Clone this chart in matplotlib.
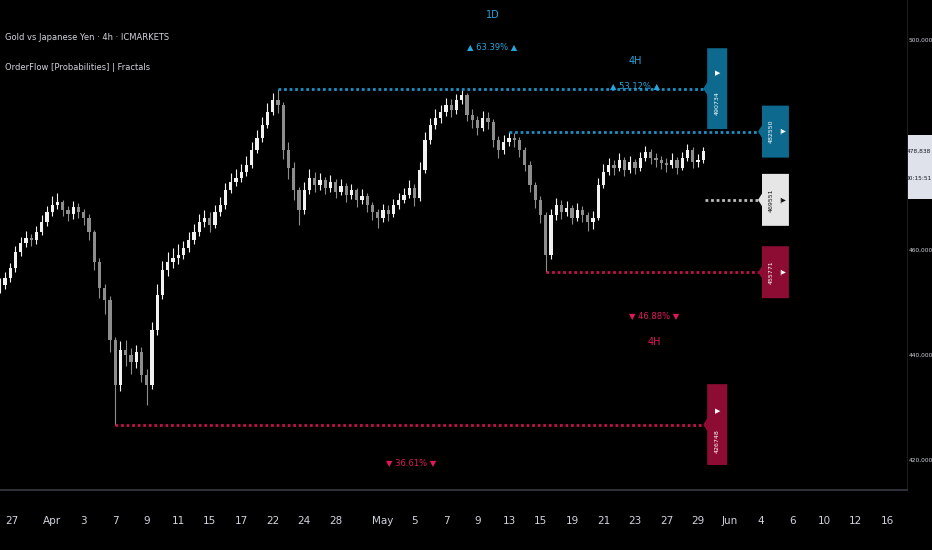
import numpy as np
import matplotlib
matplotlib.use("Agg")
import matplotlib.pyplot as plt
from matplotlib.patches import Polygon, Rectangle
import matplotlib.transforms as mtransforms
from matplotlib.ticker import FixedLocator, FuncFormatter

# ---- data (XAUJPY, 3 bars per trading day, prices in thousands of JPY) ----
first_open = 452.5
closes = [
    453.3, 454.7, 456.6, 459.6, 461.3, 462.3, 461.9, 463.4, 465.3, 467.2,
    468.6, 469.1, 467.6, 466.9, 468.2, 467.2, 466.1, 463.4, 457.7, 452.8,
    450.5, 442.9, 434.3, 440.9, 440.0, 438.7, 440.6, 436.2, 434.3, 444.8,
    451.4, 456.2, 457.7, 458.5, 459.0, 460.4, 461.9, 463.4, 465.3, 466.1,
    464.8, 467.2, 468.6, 471.4, 473.0, 473.7, 474.9, 476.2, 479.0, 481.3,
    483.8, 486.3, 488.6, 487.6, 479.0, 475.6, 471.4, 467.6, 471.4, 473.7,
    472.4, 473.3, 471.8, 473.0, 471.0, 472.2, 470.5, 471.4, 469.5, 470.3,
    468.6, 467.2, 466.1, 467.6, 466.9, 468.6, 469.5, 470.5, 471.8, 469.9,
    475.2, 480.9, 483.8, 485.1, 486.3, 487.6, 486.7, 488.6, 489.5, 485.7,
    484.8, 483.2, 485.1, 484.4, 480.9, 479.0, 480.6, 481.3, 480.9, 479.0,
    476.2, 472.4, 469.5, 466.7, 459.0, 466.7, 468.6, 467.2, 468.0, 466.1,
    467.6, 466.7, 465.3, 466.1, 472.4, 474.9, 476.2, 475.6, 477.1, 475.2,
    476.8, 475.6, 477.5, 478.7, 477.5, 477.1, 476.6, 476.2, 477.1, 475.6,
    477.5, 479.0, 476.8, 477.1, 478.838,
]
highs = [
    454.6, 455.9, 457.5, 460.8, 462.5, 463.6, 463.1, 464.5, 466.6, 468.4,
    470.3, 470.8, 469.5, 468.3, 469.4, 469.0, 467.9, 466.8, 463.9, 458.4,
    453.6, 451.2, 443.5, 442.6, 442.8, 441.3, 442.0, 441.5, 437.4, 446.2,
    453.5, 458.0, 459.6, 460.4, 461.2, 461.8, 463.5, 464.9, 466.8, 467.7,
    467.3, 468.6, 470.1, 472.7, 474.6, 475.5, 476.4, 477.9, 480.6, 482.9,
    485.3, 488.0, 489.9, 490.734, 488.2, 480.5, 476.8, 472.0, 472.9, 475.4,
    474.9, 474.6, 474.0, 474.3, 473.6, 473.5, 472.8, 472.6, 471.9, 471.6,
    470.9, 469.1, 467.9, 468.8, 468.5, 469.8, 470.9, 471.8, 473.3, 472.6,
    476.7, 482.4, 485.2, 486.8, 487.6, 489.0, 488.7, 489.8, 490.5, 490.0,
    486.9, 485.6, 486.4, 486.2, 485.0, 481.8, 481.9, 482.55, 482.2, 481.5,
    479.6, 476.9, 473.0, 470.2, 467.3, 467.9, 469.9, 469.6, 469.3, 468.6,
    468.9, 468.4, 467.2, 467.5, 473.8, 476.3, 477.6, 477.2, 478.4, 477.8,
    478.0, 477.4, 478.7, 479.9, 479.3, 478.5, 478.0, 477.6, 478.4, 477.7,
    478.7, 480.1, 479.6, 478.3, 479.7,
]
lows = [
    451.8, 452.6, 454.0, 455.9, 458.8, 460.5, 460.7, 461.2, 462.8, 464.6,
    466.5, 467.9, 466.4, 465.5, 466.0, 466.1, 464.7, 462.0, 456.1, 450.9,
    447.8, 440.6, 426.748, 433.2, 437.9, 436.4, 437.6, 434.8, 430.5, 433.6,
    443.9, 450.6, 455.1, 456.6, 457.3, 458.2, 459.6, 461.1, 462.7, 464.4,
    463.5, 464.1, 466.5, 467.9, 470.8, 472.1, 473.0, 474.1, 475.7, 478.4,
    480.6, 483.2, 485.7, 486.1, 477.4, 473.6, 469.5, 464.8, 466.8, 470.6,
    471.1, 471.5, 470.6, 471.0, 469.9, 470.4, 469.2, 469.7, 468.1, 468.7,
    467.3, 465.8, 464.2, 465.3, 465.6, 466.2, 467.8, 468.9, 469.9, 468.4,
    469.3, 474.6, 480.1, 483.0, 484.2, 485.5, 485.4, 486.0, 487.9, 484.6,
    483.3, 481.9, 482.7, 483.0, 479.7, 477.6, 478.3, 479.8, 479.6, 477.8,
    475.0, 471.1, 468.0, 465.1, 455.771, 458.2, 465.8, 466.0, 466.4, 464.9,
    465.5, 465.4, 463.6, 464.0, 465.7, 471.8, 474.2, 474.3, 475.0, 474.1,
    474.6, 474.5, 475.1, 476.9, 476.4, 475.9, 475.4, 474.9, 475.7, 474.5,
    475.2, 476.9, 475.7, 475.9, 476.6,
]

# fractal levels (price, bar index where the swing was made)
d1_high, d1_high_bar = 490734, 53
d1_low, d1_low_bar = 426748, 22
h4_high, h4_high_bar = 482550, 97
h4_low, h4_low_bar = 455771, 104
h4_mid = 469551
d1_up_pct, d1_dn_pct = "63.39%", "36.61%"
h4_up_pct, h4_dn_pct = "53.12%", "46.88%"
countdown = "00:15:51"

# x axis: trading day index -> label
tick_days = [0, 3, 5, 7, 9, 11, 13, 15, 17, 19, 21, 24, 26, 28, 30, 32,
             34, 36, 38, 40, 42, 44, 46, 48, 50, 52, 54, 56]
tick_labels = ["27", "Apr", "3", "7", "9", "11", "15", "17", "22", "24", "28",
               "May", "5", "7", "9", "13", "15", "19", "21", "23", "27", "29",
               "Jun", "4", "6", "10", "12", "16"]
price_ticks = [420000, 440000, 460000, 480000, 500000]

title_line1 = "Gold vs Japanese Yen · 4h · ICMARKETS"
title_line2 = "OrderFlow [Probabilities] | Fractals"

# ---- styling ----
plt.rcParams["font.family"] = ["DejaVu Sans"]
BG = "#000000"
TXT = "#d1d4dc"
BLUE_TXT = "#27a6dd"
BLUE_LINE = "#1f8fc4"
BLUE_BOX = "#0d6a8e"
RED_TXT = "#e3185a"
RED_LINE = "#c0134a"
RED_BOX = "#8c0c33"
WHITE_BOX = "#e6e6e6"
UP = "#f2f2f2"
DOWN = "#8d8d8d"

closes = np.asarray(closes) * 1000
highs = np.asarray(highs) * 1000
lows = np.asarray(lows) * 1000
opens = np.concatenate([[first_open * 1000], closes[:-1]])
n = len(closes)
xs = -1 / 3 + np.arange(n) / 3  # 3 bars per trading day

fig = plt.figure(figsize=(9.32, 5.5), dpi=100)
fig.patch.set_facecolor(BG)
ax = fig.add_axes([0, 60 / 550, 907 / 932, 490 / 550])
ax.set_facecolor(BG)

# ---- candles ----
up = closes >= opens
colors = np.where(up, UP, DOWN)
ax.vlines(xs, lows, highs, colors=colors, linewidth=0.8, zorder=2)
body_lo = np.minimum(opens, closes)
body_h = np.maximum(np.abs(closes - opens), 250)
ax.bar(xs, body_h, bottom=body_lo, width=0.2, color=colors, linewidth=0, zorder=3)

# ---- fractal lines + boxes ----
x_last = xs[-1]
box1_l, box1_w = x_last + 0.25, 1.27
box2_l, box2_w = x_last + 3.73, 1.71
dotted = (0, (1, 1))


def level_box(left, width, level, half_h, face):
    nw, nh = 0.25, 1200
    pts = [(left, level + half_h), (left + width, level + half_h),
           (left + width, level - half_h), (left, level - half_h),
           (left, level - nh), (left - nw, level), (left, level + nh)]
    ax.add_patch(Polygon(pts, closed=True, facecolor=face, edgecolor="none", zorder=5))


def off_text(x, y, s, dx=0, dy=0, color=TXT, size=6, rot=0, **kw):
    ax.annotate(s, xy=(x, y), xytext=(dx, dy), textcoords="offset pixels",
                ha="center", va="center", color=color, fontsize=size,
                rotation=rot, annotation_clip=False, zorder=7, **kw)


# 1D high
ax.plot([xs[d1_high_bar], box1_l], [d1_high, d1_high], color=BLUE_LINE,
        linestyle=dotted, linewidth=2, zorder=4)
level_box(box1_l, box1_w, d1_high, 7700, BLUE_BOX)
c1 = box1_l + box1_w / 2
off_text(c1, d1_high, "▶", dy=16, color="white", size=5)
off_text(c1, d1_high, f"{d1_high}", dy=-14, color="white", size=4.5, rot=90)
mid_top = (xs[d1_high_bar] + box1_l) / 2
off_text(mid_top, d1_high, "1D", dy=74, color=BLUE_TXT, size=7)
off_text(mid_top, d1_high, f"▲ {d1_up_pct} ▲", dy=42, color=BLUE_TXT, size=6)

# 1D low
ax.plot([xs[d1_low_bar], box1_l], [d1_low, d1_low], color=RED_LINE,
        linestyle=dotted, linewidth=2, zorder=4)
level_box(box1_l, box1_w, d1_low, 7700, RED_BOX)
off_text(c1, d1_low, "▶", dy=13, color="white", size=5)
off_text(c1, d1_low, f"{d1_low}", dy=-17, color="white", size=4.5, rot=90)
mid_bot = (xs[d1_low_bar] + box1_l) / 2
off_text(mid_bot, d1_low, f"▼ {d1_dn_pct} ▼", dy=-38, color=RED_TXT, size=6)

# 4H high / mid / low
c2n = box2_l + 0.6
c2a = box2_l + 1.3
for lvl, bar, face, line_c, txt_c in [
    (h4_high, h4_high_bar, BLUE_BOX, BLUE_LINE, "white"),
    (h4_mid, n - 1, WHITE_BOX, "#bdbdbd", "#111111"),
    (h4_low, h4_low_bar, RED_BOX, RED_LINE, "white"),
]:
    x0 = xs[bar] + (0.1 if bar == n - 1 else 0)
    ax.plot([x0, box2_l], [lvl, lvl], color=line_c, linestyle=dotted,
            linewidth=2, zorder=4)
    level_box(box2_l, box2_w, lvl, 4950, face)
    off_text(c2n, lvl, f"{lvl}", color=txt_c, size=4.5, rot=90)
    off_text(c2a, lvl, "|▶", color=txt_c, size=4.5)

mid_h4h = (xs[h4_high_bar] + box2_l) / 2
off_text(mid_h4h, h4_high, "4H", dy=71, color=BLUE_TXT, size=7)
off_text(mid_h4h, h4_high, f"▲ {h4_up_pct} ▲", dy=46, color=BLUE_TXT, size=6)
mid_h4l = (xs[h4_low_bar] + box2_l) / 2
off_text(mid_h4l, h4_low, f"▼ {h4_dn_pct} ▼", dy=-43, color=RED_TXT, size=6)
off_text(mid_h4l, h4_low, "4H", dy=-70, color=RED_TXT, size=7)

# ---- axes ----
ax.set_xlim(-0.317, 57.27)
ax.set_ylim(414286, 507619)
ax.xaxis.set_major_locator(FixedLocator(tick_days))
ax.set_xticklabels(tick_labels)
ax.tick_params(axis="x", length=0, pad=19, labelsize=7.5, colors=TXT)
ax.get_xticklabels()[0].set_horizontalalignment("left")
ax.yaxis.tick_right()
ax.yaxis.set_major_locator(FixedLocator(price_ticks))
ax.yaxis.set_major_formatter(FuncFormatter(lambda v, _: f"{v:,.0f}"))
ax.tick_params(axis="y", length=0, pad=1, labelsize=4.2, colors=TXT)
for side in ["top", "left"]:
    ax.spines[side].set_visible(False)
ax.spines["bottom"].set_color("#363a45")
ax.spines["bottom"].set_linewidth(1.2)
ax.spines["right"].set_color("#1c1c1c")

# current price label on the axis (box from ~16 px above to ~48 px below)
blend = mtransforms.blended_transform_factory(ax.transAxes, ax.transData)
px_per_price = 5.25 / 1000
ax.add_patch(Rectangle((1.0015, closes[-1] - 48 / px_per_price), 0.026, 64 / px_per_price,
                       transform=blend, facecolor="#dfe2ea", edgecolor="none",
                       clip_on=False, zorder=9))
ax.annotate(f"{closes[-1]:,.0f}", xy=(1.0, closes[-1]), xycoords=blend,
            xytext=(12, 0), textcoords="offset pixels", ha="center", va="center",
            fontsize=4.2, color="#131722", annotation_clip=False, zorder=10)
ax.annotate(countdown, xy=(1.0, closes[-1]), xycoords=blend,
            xytext=(12, -27), textcoords="offset pixels", ha="center", va="center",
            fontsize=4.2, color="#131722", annotation_clip=False, zorder=10)

# header texts
fig.text(5 / 932, 1 - 37 / 550, title_line1, color=TXT, fontsize=6, va="center")
fig.text(5 / 932, 1 - 68 / 550, title_line2, color=TXT, fontsize=6, va="center")

fig.savefig("out.png", dpi=100, facecolor=BG)
plt.close(fig)
